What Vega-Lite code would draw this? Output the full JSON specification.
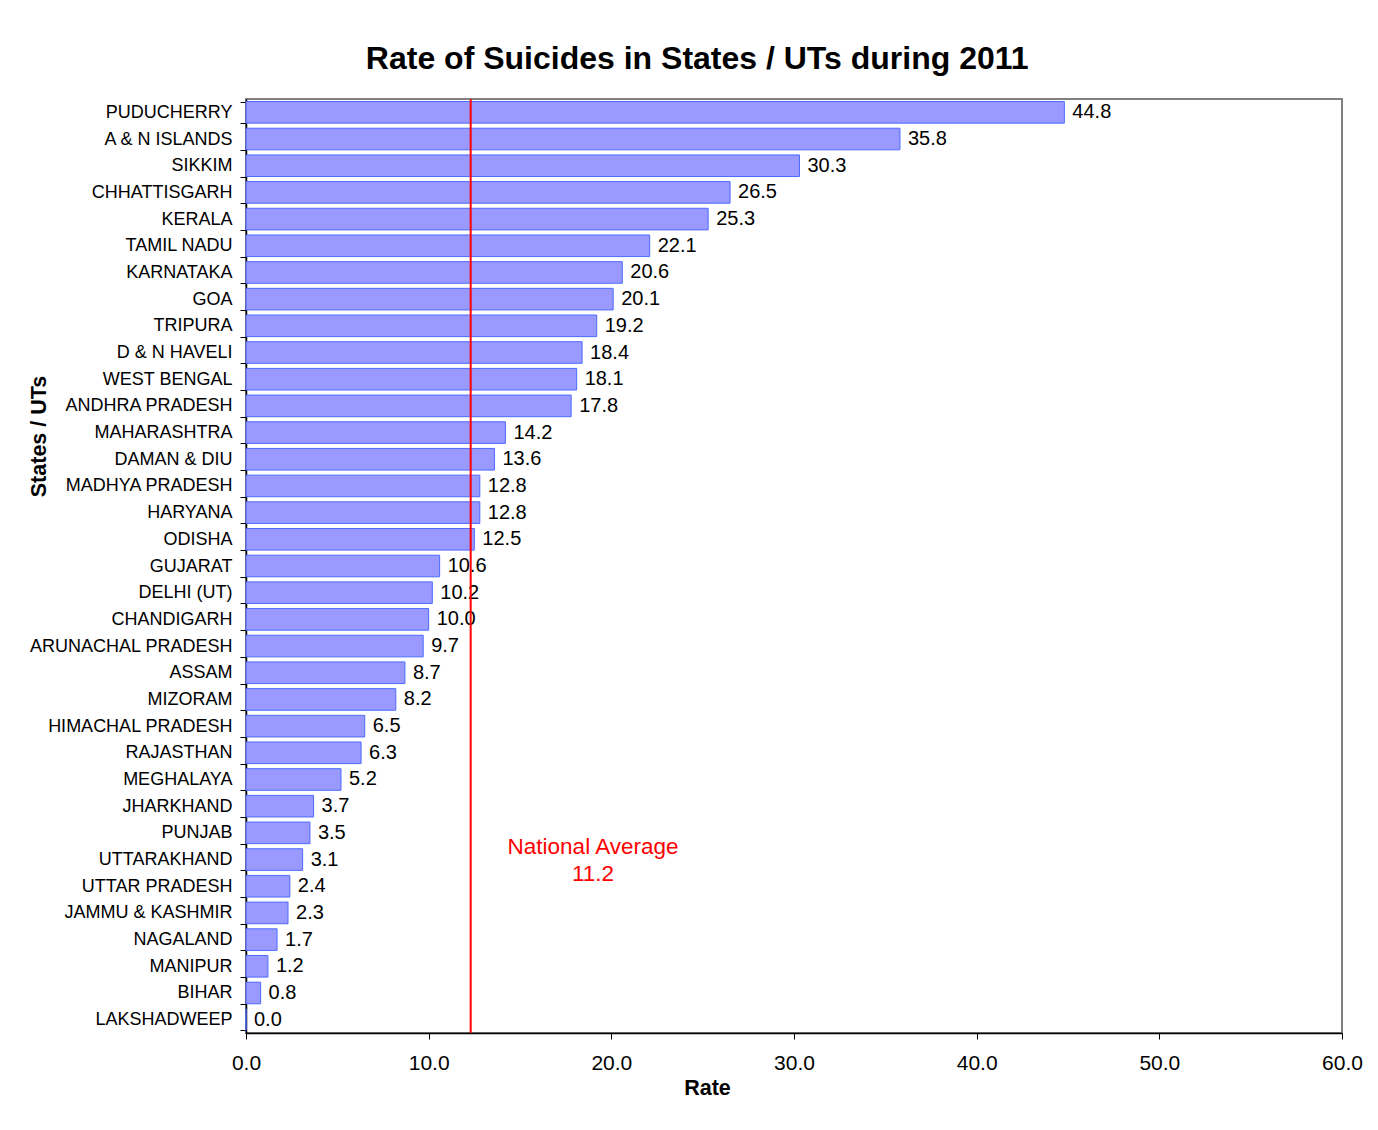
{
  "$schema": "https://vega.github.io/schema/vega-lite/v6.json",
  "width": 1096,
  "height": 934,
  "padding": {"left": 28, "top": 43, "right": 10, "bottom": 10},
  "background": "white",
  "title": {
    "text": "Rate of Suicides in States / UTs during 2011",
    "font": "Liberation Sans",
    "fontSize": 32,
    "fontWeight": "bold",
    "color": "black",
    "anchor": "middle",
    "frame": "bounds",
    "offset": 14,
    "dx": 2
  },
  "config": {
    "font": "Liberation Sans",
    "view": {"stroke": "#808080", "strokeWidth": 2}
  },
  "data": {
    "values": [
      {"state": "PUDUCHERRY", "rate": 44.8},
      {"state": "A & N ISLANDS", "rate": 35.8},
      {"state": "SIKKIM", "rate": 30.3},
      {"state": "CHHATTISGARH", "rate": 26.5},
      {"state": "KERALA", "rate": 25.3},
      {"state": "TAMIL NADU", "rate": 22.1},
      {"state": "KARNATAKA", "rate": 20.6},
      {"state": "GOA", "rate": 20.1},
      {"state": "TRIPURA", "rate": 19.2},
      {"state": "D & N HAVELI", "rate": 18.4},
      {"state": "WEST BENGAL", "rate": 18.1},
      {"state": "ANDHRA PRADESH", "rate": 17.8},
      {"state": "MAHARASHTRA", "rate": 14.2},
      {"state": "DAMAN & DIU", "rate": 13.6},
      {"state": "MADHYA PRADESH", "rate": 12.8},
      {"state": "HARYANA", "rate": 12.8},
      {"state": "ODISHA", "rate": 12.5},
      {"state": "GUJARAT", "rate": 10.6},
      {"state": "DELHI (UT)", "rate": 10.2},
      {"state": "CHANDIGARH", "rate": 10.0},
      {"state": "ARUNACHAL PRADESH", "rate": 9.7},
      {"state": "ASSAM", "rate": 8.7},
      {"state": "MIZORAM", "rate": 8.2},
      {"state": "HIMACHAL PRADESH", "rate": 6.5},
      {"state": "RAJASTHAN", "rate": 6.3},
      {"state": "MEGHALAYA", "rate": 5.2},
      {"state": "JHARKHAND", "rate": 3.7},
      {"state": "PUNJAB", "rate": 3.5},
      {"state": "UTTARAKHAND", "rate": 3.1},
      {"state": "UTTAR PRADESH", "rate": 2.4},
      {"state": "JAMMU & KASHMIR", "rate": 2.3},
      {"state": "NAGALAND", "rate": 1.7},
      {"state": "MANIPUR", "rate": 1.2},
      {"state": "BIHAR", "rate": 0.8},
      {"state": "LAKSHADWEEP", "rate": 0.0}
    ]
  },
  "layer": [
    {
      "mark": {"type": "bar", "fill": "#9999FF", "stroke": "#4D6BFF", "strokeWidth": 1},
      "encoding": {
        "y": {
          "field": "state",
          "type": "nominal",
          "sort": null,
          "scale": {"paddingInner": 0.19, "paddingOuter": 0.095},
          "axis": {
            "title": "States / UTs",
            "titleFont": "Liberation Sans",
            "titleFontSize": 21.5,
            "titleFontWeight": "bold",
            "titleColor": "black",
            "titleAngle": -90,
            "titleX": -201,
            "titleY": 337,
            "titleAlign": "center",
            "titleBaseline": "alphabetic",
            "labelFont": "Liberation Sans",
            "labelFontSize": 18,
            "labelColor": "black",
            "labelPadding": 8,
            "labelLimit": 0,
            "tickBand": "extent",
            "tickSize": 6,
            "tickColor": "black",
            "domainColor": "black",
            "domainWidth": 1.5
          }
        },
        "x": {
          "field": "rate",
          "type": "quantitative",
          "scale": {"domain": [0, 60], "nice": false},
          "axis": {
            "title": "Rate",
            "titleFont": "Liberation Sans",
            "titleFontSize": 21.5,
            "titleFontWeight": "bold",
            "titleColor": "black",
            "titleX": 461,
            "titleY": 55,
            "titleAlign": "center",
            "titleBaseline": "middle",
            "values": [0, 10, 20, 30, 40, 50, 60],
            "format": ".1f",
            "labelFont": "Liberation Sans",
            "labelFontSize": 21,
            "labelColor": "black",
            "labelPadding": 13,
            "labelFlush": false,
            "grid": false,
            "tickSize": 6,
            "tickColor": "black",
            "domainColor": "black",
            "domainWidth": 1.5
          }
        }
      }
    },
    {
      "mark": {"type": "text", "align": "left", "baseline": "middle", "dx": 8, "fontSize": 20, "color": "black"},
      "encoding": {
        "y": {"field": "state", "type": "nominal", "sort": null},
        "x": {"field": "rate", "type": "quantitative"},
        "text": {"field": "rate", "type": "quantitative", "format": ".1f"}
      }
    },
    {
      "data": {"values": [{"avg": 12.3, "label": "National Average\n11.2", "pos": 19.0, "row": "UTTARAKHAND"}]},
      "layer": [
        {
          "mark": {"type": "rule", "color": "#FF0000", "strokeWidth": 2},
          "encoding": {"x": {"field": "avg", "type": "quantitative"}}
        },
        {
          "mark": {"type": "text", "color": "#FF0000", "fontSize": 22.5, "align": "center", "baseline": "middle", "lineBreak": "\n", "lineHeight": 27, "dy": -13},
          "encoding": {
            "x": {"field": "pos", "type": "quantitative"},
            "y": {"field": "row", "type": "nominal", "sort": null},
            "text": {"field": "label"}
          }
        }
      ]
    }
  ]
}
